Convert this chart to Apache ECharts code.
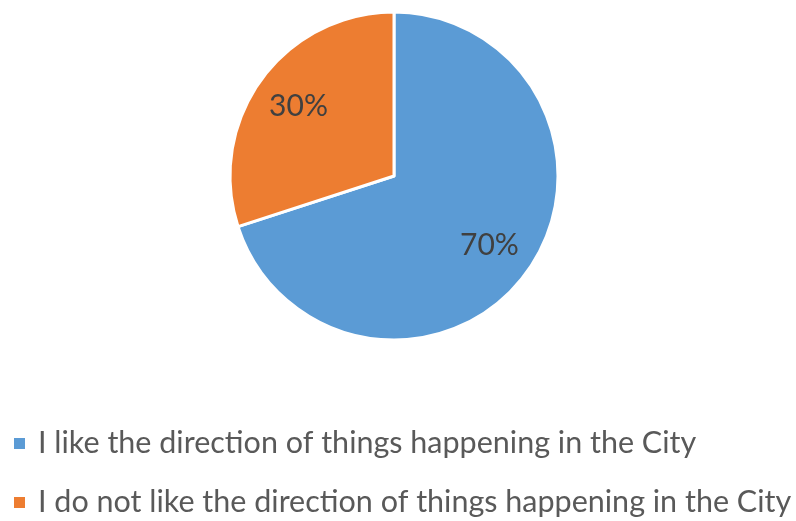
<!DOCTYPE html>
<html><head><meta charset="utf-8">
<script src="https://cdn.jsdelivr.net/npm/echarts@6/dist/echarts.min.js"></script>
<style>html,body{margin:0;padding:0;background:#fff}#c{width:796px;height:521px}</style>
</head><body><div id="c"></div>
<script>
const categories = ["I like the direction of things happening in the City", "I do not like the direction of things happening in the City"];
const values = [70, 30];
const colors = ["#5B9BD5", "#ED7D31"];

const data = categories.map((n, i) => ({ name: n, value: values[i], itemStyle: { color: colors[i] } }));
const chart = echarts.init(document.getElementById('c'), null, { renderer: 'canvas' });
chart.setOption({
  animation: false,
  backgroundColor: '#fff',
  legend: {
    orient: 'vertical', left: 7, top: 421, padding: 5, height: 200, width: 780,
    itemWidth: 13, itemHeight: 13, icon: 'rect', itemGap: 24,
    textStyle: { fontFamily: 'Lato', fontSize: 30.5, lineHeight: 35, color: '#595959', padding: [0, 0, 0, 7] },
    data: categories
  },
  series: [
    {
      type: 'pie', center: [394, 176], radius: [0, 164], startAngle: 90, clockwise: true,
      data: data, label: { show: false }, labelLine: { show: false },
      itemStyle: { borderColor: '#fff', borderWidth: 3 }
    },
    {
      type: 'pie', center: [394, 176], radius: [0, 230], startAngle: 90, clockwise: true, silent: true,
      data: categories.map((n, i) => ({ name: n, value: values[i], itemStyle: { color: 'rgba(0,0,0,0)' } })),
      legendHoverLink: false,
      label: { show: true, position: 'inside', formatter: '{d}%', fontFamily: 'Lato', fontSize: 30, color: '#404040' },
      labelLine: { show: false }
    }
  ]
});
</script></body></html>
